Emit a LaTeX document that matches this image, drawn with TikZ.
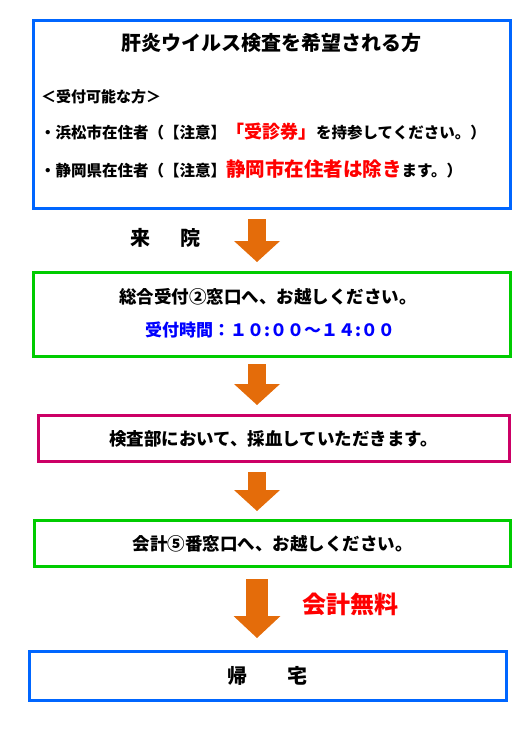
\documentclass[tikz,border=0pt]{standalone}
\usepackage{fontspec}
\newfontfamily\jp{Noto Sans CJK JP}
\usetikzlibrary{arrows.meta,positioning}
\definecolor{boxblue}{RGB}{0,102,255}
\definecolor{boxgreen}{RGB}{0,204,0}
\definecolor{boxpink}{RGB}{204,0,102}
\definecolor{flowor}{RGB}{228,108,10}
\definecolor{timeblue}{RGB}{0,0,255}
\newcommand{\jpsize}[1]{\fontsize{#1}{#1}\selectfont}

\begin{document}
\begin{tikzpicture}[x=1pt,y=-1pt,
  box/.style={draw=#1, line width=3pt, inner sep=0pt},
  txt/.style={font=\jp\bfseries\jpsize{17.5}, inner sep=0pt},
  flow/.style={flowor, line width=18pt,
    -{Triangle[length=21pt,width=46pt,line width'=0pt]},
    shorten <=9pt, shorten >=9pt}]
  \useasboundingbox (0,0) rectangle (522,738);

  % boxes
  \node[box=boxblue, minimum width=477pt, minimum height=188pt] (want) at (272,114.5) {};
  \node[box=boxgreen, minimum width=477pt, minimum height=84pt] (desk) at (272,314.5) {};
  \node[box=boxpink, minimum width=471pt, minimum height=46pt, txt] (blood) at (273.5,438.5)
    {検査部において、採血していただきます。};
  \node[box=boxgreen, minimum width=476pt, minimum height=46pt, txt] (fee) at (272.5,543.5)
    {会計⑤番窓口へ、お越しください。};
  \node[box=boxblue, minimum width=477pt, minimum height=49pt, txt, font=\jp\bfseries\jpsize{20}] (home) at (267.5,676)
    {帰　　宅};

  % texts in the first two boxes
  \node[txt, font=\jp\bfseries\jpsize{20}, anchor=base] (title) at (271,51) {肝炎ウイルス検査を希望される方};
  \node[txt, font=\jp\bfseries\jpsize{15}, anchor=base west] (who) at (41,103) {＜受付可能な方＞};
  \node[txt, font=\jp\bfseries\jpsize{15.5}, anchor=base west] (hama) at (40,139)
    {・浜松市在住者（【注意】{\color{red}\jpsize{18}「受診券」}を持参してください。）};
  \node[txt, font=\jp\bfseries\jpsize{15.5}, anchor=base west] (shizu) at (40,176)
    {・静岡県在住者（【注意】{\color{red}\jpsize{19.5}静岡市在住者は除き}ます。）};
  \node[txt, anchor=base] (desktxt) at (268,303.5) {総合受付②窓口へ、お越しください。};
  \node[txt, font=\jp\bfseries\jpsize{17}, text=timeblue, anchor=base] (time) at (270,336.5)
    {受付時間：１０:００～１４:００};

  % side labels
  \node[txt, font=\jp\bfseries\jpsize{20}] (come) at (165,238) {来\hspace{1.5em}院};
  \node[txt, font=\jp\bfseries\jpsize{24}, text=red] (free) at (350,604) {会計無料};

  % arrows
  \coordinate (ax) at (257,0);
  \draw[flow] (want.south -| ax) -- (desk.north -| ax);
  \draw[flow, shorten <=6pt] (desk.south -| ax) -- (blood.north -| ax);
  \draw[flow, shorten >=8pt] (blood.south -| ax) -- (fee.north -| ax);
  \draw[flow, line width=22pt, -{Triangle[length=22pt,width=47pt,line width'=0pt]},
    shorten <=11pt, shorten >=12pt] (fee.south -| ax) -- (home.north -| ax);
\end{tikzpicture}
\end{document}
